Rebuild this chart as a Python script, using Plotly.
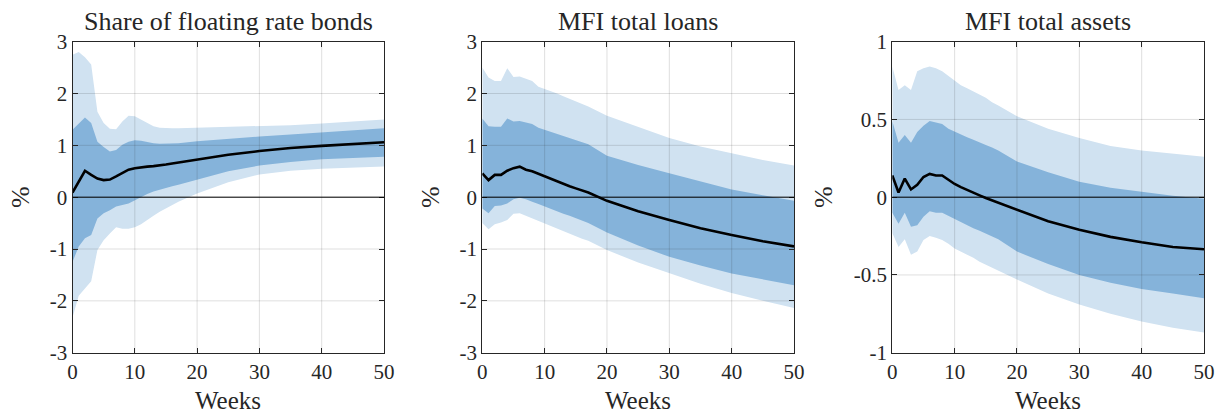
import plotly.graph_objects as go

# Horizon (weeks) at which the responses are tabulated
weeks = list(range(0, 18)) + [20, 25, 30, 35, 40, 45, 50]

# Share of floating rate bonds
float_outer_hi = [2.75, 2.80, 2.70, 2.56, 1.65, 1.43, 1.32, 1.31, 1.46, 1.57, 1.56, 1.50, 1.43, 1.37, 1.34, 1.33, 1.33, 1.33,
                  1.34, 1.35, 1.37, 1.39, 1.42, 1.46, 1.50]
float_inner_hi = [1.30, 1.43, 1.54, 1.43, 1.07, 0.97, 0.88, 0.91, 1.01, 1.07, 1.10, 1.09, 1.06, 1.04, 1.03, 1.03, 1.03, 1.04,
                  1.08, 1.13, 1.17, 1.21, 1.25, 1.29, 1.33]
float_median = [0.09, 0.30, 0.51, 0.43, 0.36, 0.33, 0.34, 0.40, 0.47, 0.53, 0.56, 0.58, 0.59, 0.60, 0.61, 0.63, 0.65, 0.67,
                0.73, 0.82, 0.89, 0.95, 0.99, 1.03, 1.06]
float_inner_lo = [-1.25, -0.95, -0.79, -0.73, -0.41, -0.31, -0.25, -0.18, -0.15, -0.12, -0.07, 0.00, 0.06, 0.11, 0.15, 0.18,
                  0.21, 0.24, 0.33, 0.50, 0.61, 0.68, 0.73, 0.76, 0.78]
float_outer_lo = [-2.32, -1.90, -1.76, -1.62, -1.02, -0.83, -0.70, -0.58, -0.61, -0.61, -0.58, -0.52, -0.44, -0.36, -0.28,
                  -0.21, -0.15, -0.09, 0.07, 0.29, 0.44, 0.51, 0.55, 0.57, 0.59]

# MFI total loans
loans_outer_hi = [2.50, 2.31, 2.24, 2.24, 2.49, 2.32, 2.33, 2.29, 2.24, 2.13, 2.09, 2.05, 2.00, 1.95, 1.90, 1.85, 1.80, 1.75,
                  1.57, 1.35, 1.14, 0.98, 0.85, 0.72, 0.61]
loans_inner_hi = [1.52, 1.37, 1.36, 1.36, 1.52, 1.46, 1.47, 1.44, 1.41, 1.34, 1.30, 1.25, 1.21, 1.17, 1.13, 1.09, 1.05, 1.02,
                  0.80, 0.62, 0.46, 0.30, 0.15, 0.04, -0.07]
loans_median = [0.46, 0.33, 0.43, 0.43, 0.51, 0.56, 0.59, 0.53, 0.50, 0.45, 0.40, 0.35, 0.30, 0.25, 0.21, 0.17, 0.13, 0.09,
                -0.07, -0.27, -0.44, -0.60, -0.73, -0.85, -0.95]
loans_inner_lo = [-0.22, -0.31, -0.17, -0.16, -0.12, -0.04, -0.01, -0.04, -0.09, -0.13, -0.18, -0.23, -0.27, -0.32, -0.36,
                  -0.41, -0.45, -0.50, -0.68, -0.93, -1.15, -1.32, -1.47, -1.59, -1.70]
loans_outer_lo = [-0.50, -0.62, -0.52, -0.49, -0.44, -0.32, -0.31, -0.36, -0.40, -0.45, -0.50, -0.55, -0.60, -0.65, -0.70,
                  -0.75, -0.80, -0.84, -1.02, -1.26, -1.47, -1.67, -1.85, -2.00, -2.14]

# MFI total assets
assets_outer_hi = [0.84, 0.69, 0.72, 0.69, 0.81, 0.83, 0.84, 0.83, 0.81, 0.78, 0.75, 0.72, 0.70, 0.68, 0.66, 0.64, 0.61, 0.59,
                   0.52, 0.44, 0.38, 0.33, 0.30, 0.28, 0.26]
assets_inner_hi = [0.49, 0.35, 0.40, 0.35, 0.42, 0.46, 0.49, 0.48, 0.47, 0.44, 0.42, 0.40, 0.385, 0.37, 0.35, 0.335, 0.32,
                   0.30, 0.23, 0.16, 0.10, 0.06, 0.035, 0.01, -0.01]
assets_median = [0.14, 0.03, 0.12, 0.05, 0.08, 0.13, 0.15, 0.14, 0.14, 0.11, 0.085, 0.065, 0.046, 0.03, 0.012, -0.005, -0.02,
                 -0.035, -0.08, -0.155, -0.21, -0.255, -0.29, -0.32, -0.335]
assets_inner_lo = [-0.10, -0.17, -0.10, -0.19, -0.18, -0.125, -0.09, -0.10, -0.10, -0.12, -0.14, -0.16, -0.18, -0.20, -0.215,
                   -0.235, -0.25, -0.27, -0.35, -0.43, -0.50, -0.55, -0.59, -0.62, -0.65]
assets_outer_lo = [-0.23, -0.32, -0.27, -0.37, -0.35, -0.275, -0.25, -0.26, -0.275, -0.30, -0.33, -0.35, -0.37, -0.39, -0.415,
                   -0.435, -0.455, -0.475, -0.53, -0.62, -0.69, -0.75, -0.80, -0.84, -0.87]

titles = ["Share of floating rate bonds", "MFI total loans", "MFI total assets"]
x_ticks = [0, 10, 20, 30, 40, 50]
y_ticks_wide = [-3, -2, -1, 0, 1, 2, 3]
y_ticks_wide_text = ["-3", "-2", "-1", "0", "1", "2", "3"]
y_ticks_narrow = [-1, -0.5, 0, 0.5, 1]
y_ticks_narrow_text = ["-1", "-0.5", "0", "0.5", "1"]

panels = [
    (float_outer_hi, float_inner_hi, float_median, float_inner_lo, float_outer_lo, y_ticks_wide, y_ticks_wide_text),
    (loans_outer_hi, loans_inner_hi, loans_median, loans_inner_lo, loans_outer_lo, y_ticks_wide, y_ticks_wide_text),
    (assets_outer_hi, assets_inner_hi, assets_median, assets_inner_lo, assets_outer_lo, y_ticks_narrow, y_ticks_narrow_text),
]

W, H = 1226, 415
FONT = "Liberation Serif"
INK = "#262626"
LIGHT = "#d0e2f1"
DARK = "#85b3da"
GRID = "rgba(38,38,38,0.15)"

# plot-area placement (pixels)
x_domains_px = [(72.5, 384.0), (482.3, 794.0), (892.3, 1204.0)]
y_domain = [1 - 352.7 / H, 1 - 41.7 / H]
ylabel_px = [20, 430, 823]

fig = go.Figure()
annotations = []
shapes = []

for i, (o_hi, i_hi, med, i_lo, o_lo, yt, ytt) in enumerate(panels):
    n = "" if i == 0 else str(i + 1)
    xa, ya = "x" + n, "y" + n
    band_x = weeks + weeks[::-1]
    fig.add_trace(go.Scatter(x=band_x, y=o_hi + o_lo[::-1], fill="toself", fillcolor=LIGHT,
                             line=dict(width=0), mode="lines", hoverinfo="skip", showlegend=False,
                             xaxis=xa, yaxis=ya))
    fig.add_trace(go.Scatter(x=band_x, y=i_hi + i_lo[::-1], fill="toself", fillcolor=DARK,
                             line=dict(width=0), mode="lines", hoverinfo="skip", showlegend=False,
                             xaxis=xa, yaxis=ya))
    fig.add_trace(go.Scatter(x=weeks, y=med, mode="lines", line=dict(color="black", width=2.6),
                             showlegend=False, xaxis=xa, yaxis=ya))

    x0, x1 = x_domains_px[i]
    dom = [x0 / W, x1 / W]
    axis_common = dict(showline=True, linecolor=INK, linewidth=1, mirror="ticks", ticks="inside",
                       ticklen=5, tickcolor=INK, tickwidth=1, showgrid=False, zeroline=False,
                       automargin=False, tickfont=dict(family=FONT, size=21, color=INK))
    fig.layout["xaxis" + n] = dict(domain=dom, range=[0, 50], tickvals=x_ticks, anchor=ya,
                                   ticklabelstandoff=0, **axis_common)
    fig.layout["yaxis" + n] = dict(domain=y_domain, range=[yt[0], yt[-1]], tickvals=yt, ticktext=ytt,
                                   anchor=xa, ticklabelstandoff=0, **axis_common)

    # grid lines drawn over the bands
    for v in x_ticks[1:-1]:
        shapes.append(dict(type="line", xref=xa, yref=ya + " domain", x0=v, x1=v, y0=0, y1=1,
                           line=dict(color=GRID, width=1), layer="above"))
    for v in yt[1:-1]:
        shapes.append(dict(type="line", xref=xa + " domain", yref=ya, x0=0, x1=1, y0=v, y1=v,
                           line=dict(color=GRID, width=1), layer="above"))
    # zero reference line
    shapes.append(dict(type="line", xref=xa + " domain", yref=ya, x0=0, x1=1, y0=0, y1=0,
                       line=dict(color="black", width=1), layer="above"))

    cx = (x0 + x1) / 2 / W
    annotations.append(dict(text=titles[i], x=cx, y=1 - 21 / H, xref="paper", yref="paper",
                            xanchor="center", yanchor="middle", showarrow=False,
                            font=dict(family=FONT, size=26, color=INK)))
    annotations.append(dict(text="Weeks", x=cx, y=1 - 400 / H, xref="paper", yref="paper",
                            xanchor="center", yanchor="middle", showarrow=False,
                            font=dict(family=FONT, size=25, color=INK)))
    annotations.append(dict(text="%", x=ylabel_px[i] / W, y=1 - 197 / H, xref="paper", yref="paper",
                            xanchor="center", yanchor="middle", showarrow=False, textangle=-90,
                            font=dict(family=FONT, size=26, color=INK)))

fig.update_layout(width=W, height=H, margin=dict(l=0, r=0, t=0, b=0, pad=0, autoexpand=False),
                  paper_bgcolor="white", plot_bgcolor="white",
                  annotations=annotations, shapes=shapes)

fig.write_html("out.html")
